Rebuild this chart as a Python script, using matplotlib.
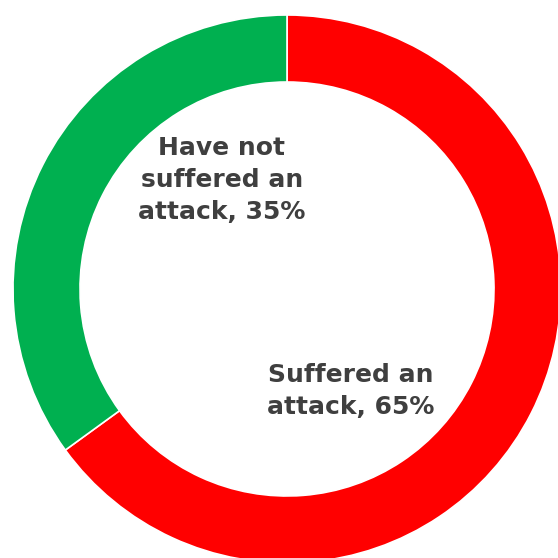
import matplotlib
matplotlib.use("Agg")
import matplotlib.pyplot as plt

labels = ["Suffered an\nattack, 65%", "Have not\nsuffered an\nattack, 35%"]
values = [65, 35]
colors = ["#FF0000", "#00B050"]

H = 558
fig = plt.figure(figsize=(5.58, 5.58), dpi=100)
ax = fig.add_axes([0, 0, 1, 1])

cx, cy, r = 287, H - 289, 274
ax.pie(values, colors=colors, startangle=90, counterclock=False,
       center=(cx, cy), radius=r, frame=True,
       wedgeprops=dict(width=67, edgecolor="white", linewidth=1.2))
ax.set_xlim(0, H)
ax.set_ylim(0, H)
ax.set_aspect("equal")
ax.axis("off")

txt = dict(ha="center", va="center", fontsize=18, fontweight="bold",
           color="#3F3F3F", family="DejaVu Sans", linespacing=1.42)
ax.text(222, H - 180, labels[1], **txt)
ax.text(351, H - 391, labels[0], **txt)

fig.savefig("out.png", dpi=100, facecolor="white")
